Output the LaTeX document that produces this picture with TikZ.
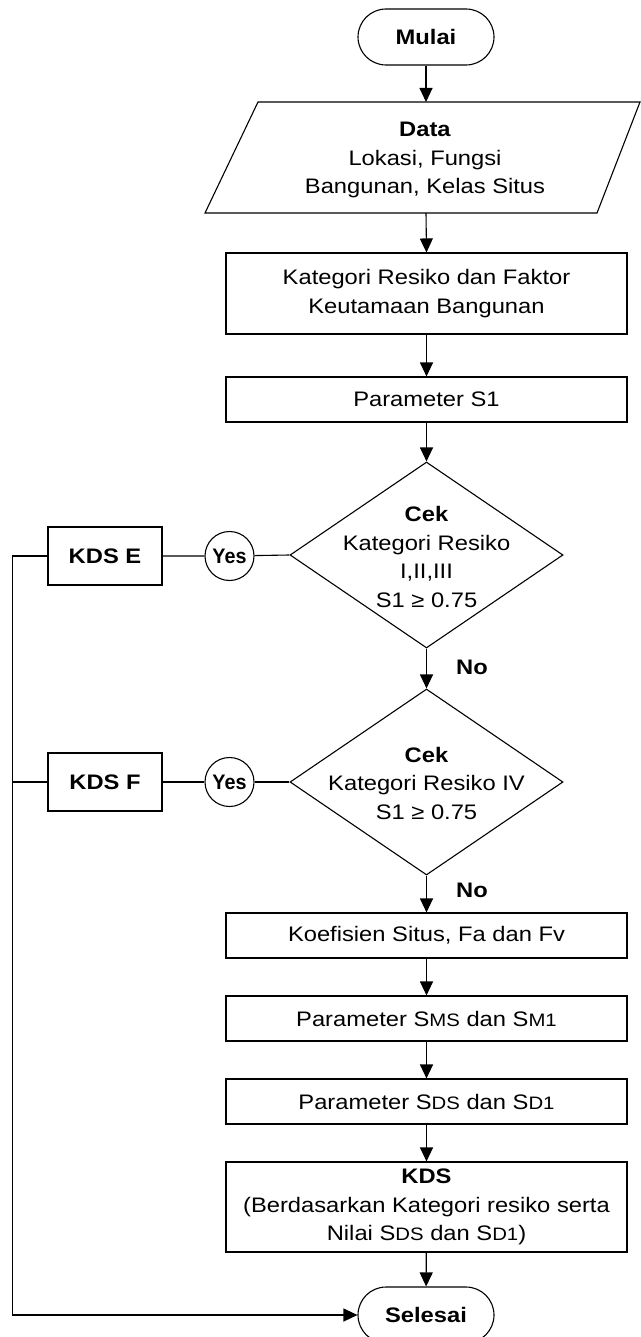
\documentclass[tikz,border=0pt]{standalone}
\usepackage{fontspec}
\setmainfont{Liberation Sans}[FakeStretch=1.13]
\newfontfamily\narrowfont{Liberation Sans}[FakeStretch=0.94]
\usetikzlibrary{shapes.geometric,shapes.misc,arrows.meta}

% base text size and a slightly smaller size for the index letters
\newcommand\basefont{\fontsize{21}{28.5}\selectfont}
\newcommand\idx[1]{{\fontsize{18}{20}\selectfont #1}}

\tikzset{
  line/.style={line width=1.1pt, draw=black},
  arr/.style={line, -{Triangle[length=14pt,width=13pt]}},
  termbox/.style={rounded rectangle, line, minimum width=136pt, minimum height=56pt,
    inner sep=0pt, font=\basefont\bfseries},
  procbox/.style={rectangle, line, minimum width=401pt, inner sep=0pt, align=center,
    font=\basefont},
  decbox/.style={diamond, line, minimum width=273pt, minimum height=186pt, inner sep=0pt},
  dectext/.style={align=center, font=\basefont, inner sep=0pt},
  kdsbox/.style={rectangle, line, minimum width=114pt, minimum height=58pt,
    inner sep=0pt, font=\basefont\bfseries},
  yesnode/.style={circle, line, minimum size=49pt, inner sep=0pt,
    font=\narrowfont\fontsize{21}{24}\selectfont\bfseries},
  nolabel/.style={inner sep=0pt, font=\basefont\bfseries},
}

\begin{document}
\begin{tikzpicture}[x=1pt,y=-1pt]
\useasboundingbox (0,0) rectangle (640,1337);

% start
\node[termbox] (mulai) at (426,37) {Mulai};

% input data (parallelogram)
\draw[line] (258,102) -- (640,102) -- (597,213) -- (205,213) -- cycle;
\coordinate (datatop) at (426,102);
\coordinate (databot) at (426,213);
\node[align=center, font=\basefont, inner sep=0pt] (data) at (425,160)
  {\textbf{Data}\\Lokasi, Fungsi\\Bangunan, Kelas Situs};

% processing steps
\node[procbox, minimum height=81pt] (risk) at (426.5,293.5)
  {Kategori Resiko dan Faktor\\Keutamaan Bangunan};
\node[procbox, minimum height=45pt] (s1) at (426.5,399.5) {Parameter S1};

% first decision
\node[decbox] (cek1) at (426.5,555) {};
\node[dectext] (cek1txt) at (426.5,557)
  {\textbf{Cek}\\Kategori Resiko\\I,II,III\\S1 ≥ 0.75};
\node[yesnode] (yes1) at (229.5,556) {Yes};
\node[kdsbox] (kdse) at (105,556) {KDS E};
\node[nolabel] (no1) at (472,667) {No};

% second decision
\node[decbox] (cek2) at (426.5,782) {};
\node[dectext] (cek2txt) at (426.5,783)
  {\textbf{Cek}\\Kategori Resiko IV\\S1 ≥ 0.75};
\node[yesnode] (yes2) at (229.5,782) {Yes};
\node[kdsbox] (kdsf) at (105,782) {KDS F};
\node[nolabel] (no2) at (472,890) {No};

% remaining steps
\node[procbox, minimum height=45pt] (koef) at (426.5,935.5) {Koefisien Situs, Fa dan Fv};
\node[procbox, minimum height=45pt] (sms) at (426.5,1018.5)
  {Parameter S\idx{MS} dan S\idx{M1}};
\node[procbox, minimum height=45pt] (sds) at (426.5,1101.5)
  {Parameter S\idx{DS} dan S\idx{D1}};
\node[procbox, minimum height=90pt] (kds) at (426.5,1207)
  {\textbf{KDS}\\(Berdasarkan Kategori resiko serta\\Nilai S\idx{DS} dan S\idx{D1})};

% end
\node[termbox] (selesai) at (426,1315) {Selesai};

% main flow
\draw[arr] (mulai.south) -- (datatop);
\draw[arr] (databot) -- (risk.north);
\draw[arr] (risk) -- (s1);
\draw[arr] (s1) -- (cek1.north);
\draw[arr] (cek1.south) -- (cek2.north);
\draw[arr] (cek2.south) -- (koef.north);
\draw[arr] (koef) -- (sms);
\draw[arr] (sms) -- (sds);
\draw[arr] (sds) -- (kds);
\draw[arr] (kds) -- (selesai);

% yes branches
\coordinate (leftx) at (12.5,0);
\draw[line] (cek1.west) -- (yes1) -- (kdse);
\draw[line] (cek2.west) -- (yes2) -- (kdsf);
\draw[arr] (kdse.west) -- (kdse.west -| leftx) |- (selesai.west);
\draw[line] (kdsf.west) -- (kdsf.west -| leftx);
\end{tikzpicture}
\end{document}
